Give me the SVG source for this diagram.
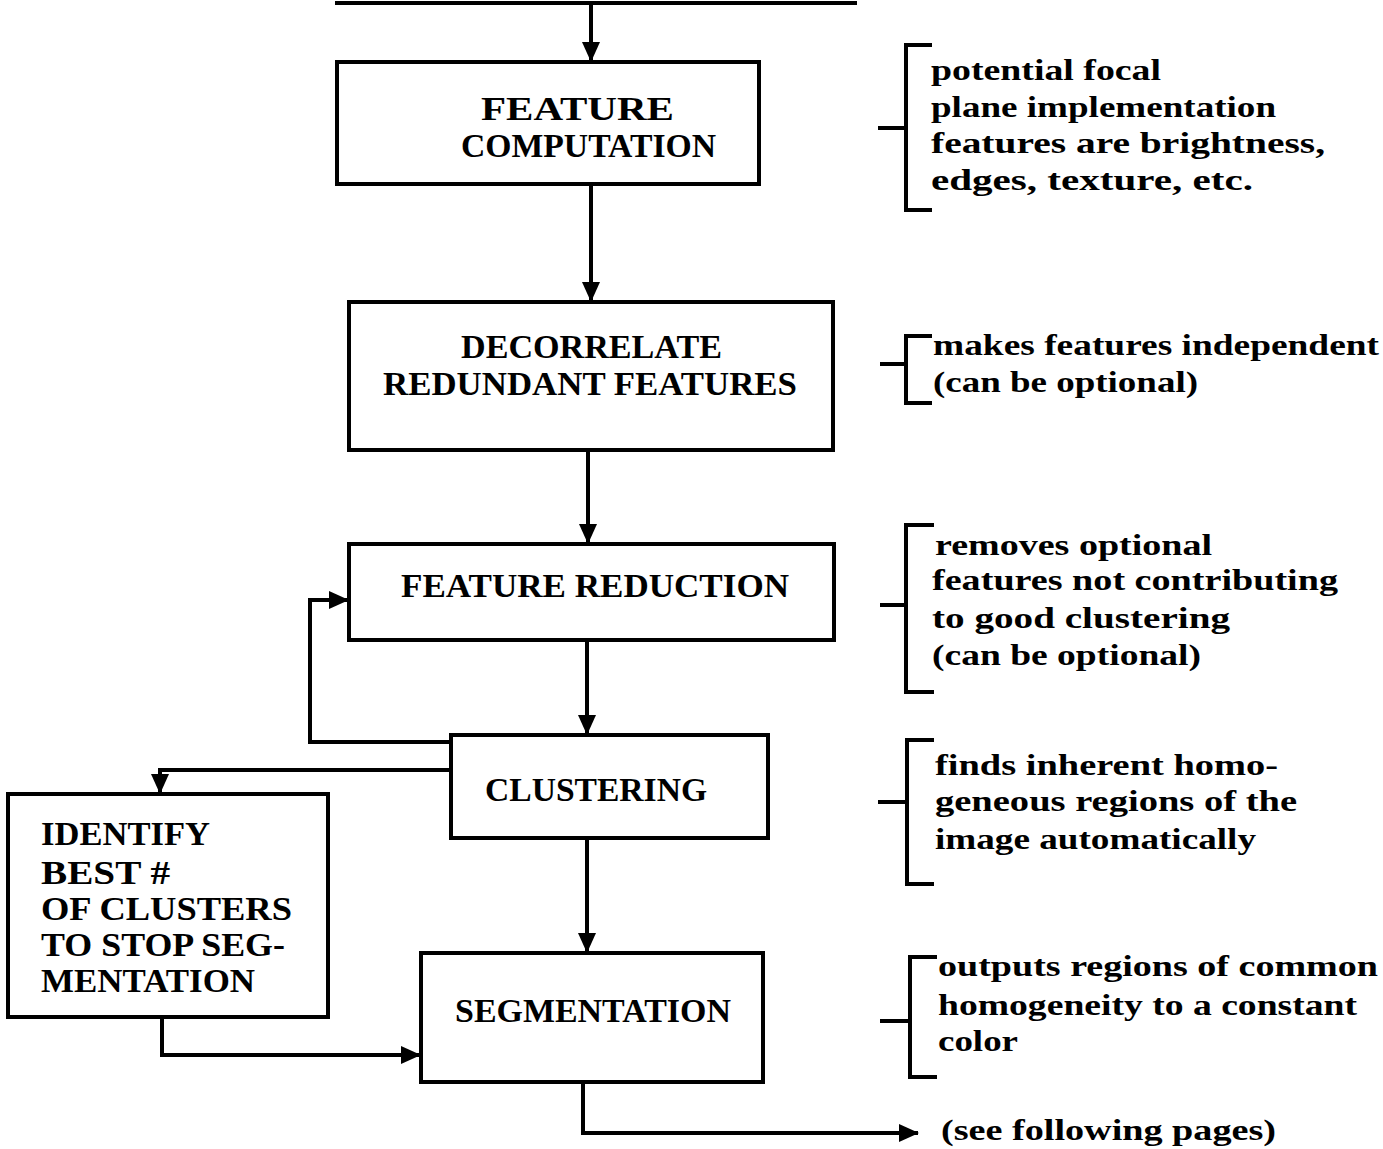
<svg xmlns="http://www.w3.org/2000/svg" width="1383" height="1149" viewBox="0 0 1383 1149">
<style>
.box{fill:#fff;stroke:#000;stroke-width:4}
.conn{fill:none;stroke:#000;stroke-width:4}
.br{fill:none;stroke:#000;stroke-width:4}
.t{font-family:"Liberation Serif","DejaVu Serif",serif;font-weight:bold;font-size:33px;fill:#000}
.a{font-family:"Liberation Serif","DejaVu Serif",serif;font-weight:bold;font-size:30px;fill:#000}
</style>
<defs>
<marker id="ah" markerUnits="userSpaceOnUse" markerWidth="20" markerHeight="18" refX="19" refY="9" orient="auto">
<path d="M0,0 L20,9 L0,18 Z" fill="#000"/>
</marker>
</defs>
<rect width="1383" height="1149" fill="#fff"/>

<g id="connectors">
<line class="conn" x1="335" y1="3" x2="857" y2="3"/>
<line class="conn" x1="591" y1="4" x2="591" y2="61" marker-end="url(#ah)"/>
<line class="conn" x1="591" y1="185" x2="591" y2="301" marker-end="url(#ah)"/>
<line class="conn" x1="588" y1="450" x2="588" y2="543" marker-end="url(#ah)"/>
<line class="conn" x1="587" y1="640" x2="587" y2="734" marker-end="url(#ah)"/>
<polyline class="conn" points="451,742 310,742 310,600 348,600" marker-end="url(#ah)"/>
<polyline class="conn" points="451,770 160,770 160,793" marker-end="url(#ah)"/>
<line class="conn" x1="587" y1="838" x2="587" y2="952" marker-end="url(#ah)"/>
<polyline class="conn" points="162,1017 162,1055 420,1055" marker-end="url(#ah)"/>
<polyline class="conn" points="583,1082 583,1133 918,1133" marker-end="url(#ah)"/>
</g>

<g id="feature-computation">
<rect class="box" x="337" y="62" width="422" height="122"/>
<text class="t" x="481" y="120" textLength="193" lengthAdjust="spacingAndGlyphs">FEATURE</text>
<text class="t" x="461" y="157" textLength="255" lengthAdjust="spacingAndGlyphs">COMPUTATION</text>
</g>

<g id="decorrelate">
<rect class="box" x="349" y="302" width="484" height="148"/>
<text class="t" x="461" y="358" textLength="261" lengthAdjust="spacingAndGlyphs">DECORRELATE</text>
<text class="t" x="383" y="395" textLength="414" lengthAdjust="spacingAndGlyphs">REDUNDANT FEATURES</text>
</g>

<g id="feature-reduction">
<rect class="box" x="349" y="544" width="485" height="96"/>
<text class="t" x="401" y="597" textLength="388" lengthAdjust="spacingAndGlyphs">FEATURE REDUCTION</text>
</g>

<g id="clustering">
<rect class="box" x="451" y="735" width="317" height="103"/>
<text class="t" x="485" y="801" textLength="222" lengthAdjust="spacingAndGlyphs">CLUSTERING</text>
</g>

<g id="identify">
<rect class="box" x="8" y="794" width="320" height="223"/>
<text class="t" x="41" y="845" textLength="169" lengthAdjust="spacingAndGlyphs">IDENTIFY</text>
<text class="t" x="41" y="884" textLength="129" lengthAdjust="spacingAndGlyphs">BEST #</text>
<text class="t" x="41" y="920" textLength="251" lengthAdjust="spacingAndGlyphs">OF CLUSTERS</text>
<text class="t" x="41" y="956" textLength="244" lengthAdjust="spacingAndGlyphs">TO STOP SEG-</text>
<text class="t" x="41" y="992" textLength="214" lengthAdjust="spacingAndGlyphs">MENTATION</text>
</g>

<g id="segmentation">
<rect class="box" x="421" y="953" width="342" height="129"/>
<text class="t" x="455" y="1022" textLength="276" lengthAdjust="spacingAndGlyphs">SEGMENTATION</text>
</g>

<g id="note-1">
<path class="br" d="M932,45 L906,45 L906,210 L932,210 M878,128 L906,128"/>
<text class="a" x="931" y="80" textLength="230" lengthAdjust="spacingAndGlyphs">potential focal</text>
<text class="a" x="931" y="117" textLength="345" lengthAdjust="spacingAndGlyphs">plane implementation</text>
<text class="a" x="931" y="153" textLength="394" lengthAdjust="spacingAndGlyphs">features are brightness,</text>
<text class="a" x="931" y="190" textLength="322" lengthAdjust="spacingAndGlyphs">edges, texture, etc.</text>
</g>

<g id="note-2">
<path class="br" d="M932,336 L906,336 L906,403 L932,403 M880,364 L906,364"/>
<text class="a" x="933" y="355" textLength="446" lengthAdjust="spacingAndGlyphs">makes features independent</text>
<text class="a" x="933" y="392" textLength="265" lengthAdjust="spacingAndGlyphs">(can be optional)</text>
</g>

<g id="note-3">
<path class="br" d="M934,525 L906,525 L906,692 L934,692 M880,605 L906,605"/>
<text class="a" x="935" y="555" textLength="277" lengthAdjust="spacingAndGlyphs">removes optional</text>
<text class="a" x="932" y="590" textLength="406" lengthAdjust="spacingAndGlyphs">features not contributing</text>
<text class="a" x="932" y="628" textLength="298" lengthAdjust="spacingAndGlyphs">to good clustering</text>
<text class="a" x="932" y="665" textLength="269" lengthAdjust="spacingAndGlyphs">(can be optional)</text>
</g>

<g id="note-4">
<path class="br" d="M934,740 L907,740 L907,884 L934,884 M878,802 L907,802"/>
<text class="a" x="935" y="775" textLength="343" lengthAdjust="spacingAndGlyphs">finds inherent homo-</text>
<text class="a" x="935" y="811" textLength="362" lengthAdjust="spacingAndGlyphs">geneous regions of the</text>
<text class="a" x="935" y="849" textLength="321" lengthAdjust="spacingAndGlyphs">image automatically</text>
</g>

<g id="note-5">
<path class="br" d="M937,957 L910,957 L910,1077 L937,1077 M880,1021 L910,1021"/>
<text class="a" x="938" y="976" textLength="440" lengthAdjust="spacingAndGlyphs">outputs regions of common</text>
<text class="a" x="938" y="1015" textLength="419" lengthAdjust="spacingAndGlyphs">homogeneity to a constant</text>
<text class="a" x="938" y="1051" textLength="80" lengthAdjust="spacingAndGlyphs">color</text>
</g>

<g id="note-6">
<text class="a" x="941" y="1140" textLength="335" lengthAdjust="spacingAndGlyphs">(see following pages)</text>
</g>
</svg>
